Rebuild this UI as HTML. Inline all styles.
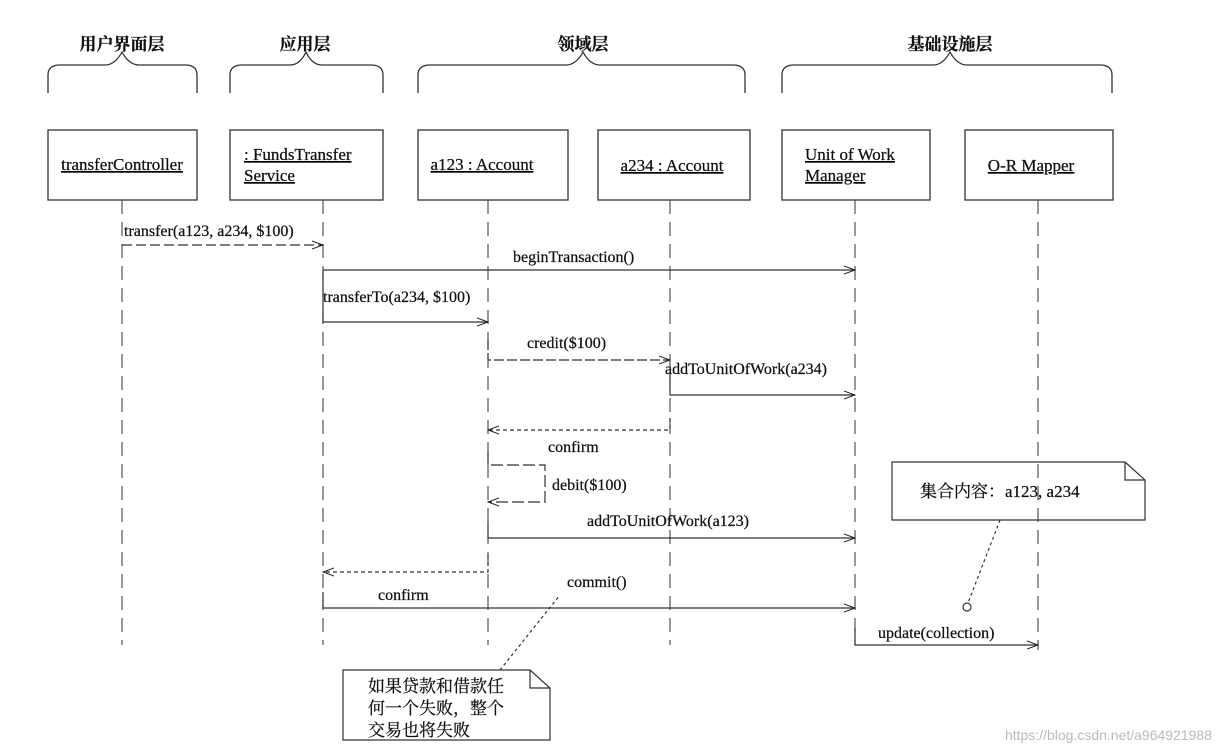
<!DOCTYPE html>
<html><head><meta charset="utf-8"><style>
html,body{margin:0;padding:0;background:#fff;}
svg{display:block;}
text{font-family:"Liberation Serif","Noto Serif CJK SC",serif;fill:#111;stroke:#111;stroke-width:0.25;}
</style></head><body>
<svg width="1221" height="750" viewBox="0 0 1221 750" xmlns="http://www.w3.org/2000/svg">
<defs>
<marker id="a" markerWidth="12" markerHeight="10" refX="11" refY="5" orient="auto" markerUnits="userSpaceOnUse">
<path d="M0,1 L11,5 L0,9" fill="none" stroke="#222" stroke-width="1"/></marker>
</defs>
<g stroke="#333" stroke-width="1.3" fill="none">
<path d="M48,93 V75 Q48,65 60,65 H105 Q115,65 122,52 Q129,65 139,65 H185 Q197,65 197,75 V93"/>
<path d="M230,93 V75 Q230,65 242,65 H290 Q300,65 306,52 Q312,65 322,65 H371 Q383,65 383,75 V93"/>
<path d="M418,93 V75 Q418,65 430,65 H566 Q576,65 583,52 Q590,65 600,65 H733 Q745,65 745,75 V93"/>
<path d="M782,93 V75 Q782,65 794,65 H933 Q943,65 950,52 Q957,65 967,65 H1100 Q1112,65 1112,75 V93"/>
<rect x="48" y="130" width="149" height="70"/>
<rect x="230" y="130" width="153" height="70"/>
<rect x="418" y="130" width="150" height="70"/>
<rect x="598" y="130" width="152" height="70"/>
<rect x="782" y="130" width="148" height="70"/>
<rect x="965" y="130" width="148" height="70"/>
</g>
<g stroke="#444" stroke-width="1.1" stroke-dasharray="14,8" fill="none">
<line x1="122" y1="200" x2="122" y2="645"/>
<line x1="323" y1="200" x2="323" y2="645"/>
<line x1="488" y1="200" x2="488" y2="645"/>
<line x1="670" y1="200" x2="670" y2="645"/>
<line x1="855" y1="200" x2="855" y2="645"/>
<line x1="1038" y1="200" x2="1038" y2="650"/>
</g>
<g stroke="#333" stroke-width="1.2" fill="none">
<line x1="122" y1="245" x2="323" y2="245" stroke-dasharray="10,4" marker-end="url(#a)"/>
<line x1="323" y1="270" x2="855" y2="270" marker-end="url(#a)"/>
<polyline points="323,270 323,322 488,322" marker-end="url(#a)"/>
<polyline points="488,340 488,360 670,360" stroke-dasharray="10,3" marker-end="url(#a)"/>
<polyline points="670,372 670,395 855,395" marker-end="url(#a)"/>
<polyline points="670,418 670,430 488,430" stroke-dasharray="4,3" marker-end="url(#a)"/>
<polyline points="488,452 488,465 545,465 545,502 488,502" stroke-dasharray="12,4" marker-end="url(#a)"/>
<polyline points="488,522 488,538 855,538" marker-end="url(#a)"/>
<polyline points="488,555 488,572 323,572" stroke-dasharray="4,3" marker-end="url(#a)"/>
<polyline points="323,592 323,608 855,608" marker-end="url(#a)"/>
<polyline points="855,628 855,645 1038,645" marker-end="url(#a)"/>
<path d="M343,670 H530 L550,688 V740 H343 Z M530,670 V688 H550"/>
<path d="M892,462 H1125 L1145,480 V520 H892 Z M1125,462 V480 H1145"/>
<line x1="500" y1="670" x2="560" y2="595" stroke-dasharray="3,3"/>
<line x1="1000" y1="520" x2="968" y2="603" stroke-dasharray="3,3"/>
<circle cx="967" cy="607" r="4" fill="#fff"/>
</g>
<g font-size="17" text-anchor="middle" font-weight="bold">
<text x="122" y="50">用户界面层</text>
<text x="305" y="50">应用层</text>
<text x="583" y="50">领域层</text>
<text x="950" y="50">基础设施层</text>
</g>
<g font-size="17" text-decoration="underline">
<text x="122" y="170" text-anchor="middle">transferController</text>
<text x="244" y="160">: FundsTransfer</text>
<text x="244" y="181">Service</text>
<text x="482" y="170" text-anchor="middle">a123 : Account</text>
<text x="672" y="171" text-anchor="middle">a234 : Account</text>
<text x="805" y="160">Unit of Work</text>
<text x="805" y="181">Manager</text>
<text x="1031" y="171" text-anchor="middle">O-R Mapper</text>
</g>
<g font-size="16">
<text x="124" y="236">transfer(a123, a234, $100)</text>
<text x="513" y="262">beginTransaction()</text>
<text x="323" y="302">transferTo(a234, $100)</text>
<text x="527" y="348">credit($100)</text>
<text x="665" y="374">addToUnitOfWork(a234)</text>
<text x="548" y="452">confirm</text>
<text x="552" y="490">debit($100)</text>
<text x="587" y="526">addToUnitOfWork(a123)</text>
<text x="567" y="587">commit()</text>
<text x="378" y="600">confirm</text>
<text x="878" y="638">update(collection)</text>
</g>
<g font-size="17">
<text x="368" y="692">如果贷款和借款任</text>
<text x="368" y="714">何一个失败，整个</text>
<text x="368" y="736">交易也将失败</text>
<text x="920" y="497">集合内容：a123, a234</text>
</g>
<text x="1212" y="740" text-anchor="end" font-size="14" style="font-family:'Liberation Sans',sans-serif;fill:#bbb;stroke:none">https://blog.csdn.net/a964921988</text>
</svg>
</body></html>
